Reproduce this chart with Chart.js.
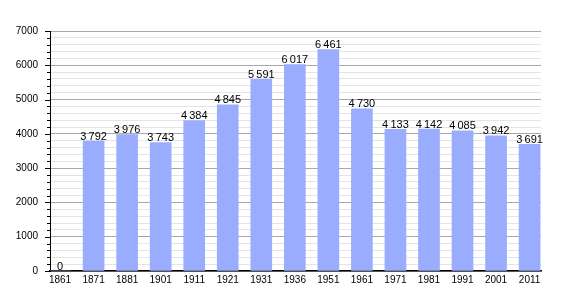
<!DOCTYPE html>
<html>
<head>
<meta charset="utf-8">
<script src="https://cdn.jsdelivr.net/npm/chart.js@4"></script>
<style>
  html, body { margin: 0; padding: 0; background: #fff; }
  #wrap { width: 570px; height: 300px; }
</style>
</head>
<body>
<div id="wrap"><canvas id="popChart"></canvas></div>
<script>
// années et population
const years = ['1861', '1871', '1881', '1901', '1911', '1921', '1931', '1936', '1951', '1961', '1971', '1981', '1991', '2001', '2011'];
const population = [0, 3792, 3976, 3743, 4384, 4845, 5591, 6017, 6461, 4730, 4133, 4142, 4085, 3942, 3691];
const yTicks = [0, 1000, 2000, 3000, 4000, 5000, 6000, 7000];

const points = population.map((v, i) => ({ x: i, y: v }));
const fontFamily = '"Liberation Sans", Arial, sans-serif';

function formatFr(n) {
    // séparateur de milliers : espace fine
    return String(n).replace(/\B(?=(\d{3})+(?!\d))/g, '\u2009');
}

// valeurs au-dessus des barres
const valueLabels = {
    id: 'valueLabels',
    afterDatasetsDraw(chart) {
        const ctx = chart.ctx;
        const meta = chart.getDatasetMeta(0);
        ctx.save();
        ctx.font = '11px ' + fontFamily;
        ctx.fillStyle = '#000';
        ctx.textAlign = 'center';
        ctx.textBaseline = 'bottom';
        meta.data.forEach((bar, i) => {
            ctx.fillText(formatFr(population[i]), bar.x, bar.y + 1);
        });
        ctx.restore();
    }
};

// petits traits de graduation à gauche de l'axe
const minorTicks = {
    id: 'minorTicks',
    afterDraw(chart) {
        const ctx = chart.ctx;
        const y = chart.scales.y;
        const left = chart.chartArea.left;
        ctx.save();
        ctx.strokeStyle = '#000';
        ctx.lineWidth = 1;
        for (let v = 0; v <= 7000; v += 200) {
            const py = Math.round(y.getPixelForValue(v)) + 0.5;
            const len = v % 1000 === 0 ? 5 : 3;
            ctx.beginPath();
            ctx.moveTo(left - len, py);
            ctx.lineTo(left, py);
            ctx.stroke();
        }
        ctx.restore();
    }
};

new Chart(document.getElementById('popChart'), {
    type: 'bar',
    data: {
        datasets: [{
            data: points,
            backgroundColor: '#9aacfd',
            borderWidth: 0,
            barThickness: 21
        }]
    },
    options: {
        responsive: true,
        maintainAspectRatio: false,
        animation: false,
        layout: { padding: { top: 31, right: 29, bottom: 11, left: 0 } },
        plugins: {
            legend: { display: false },
            tooltip: { enabled: false }
        },
        scales: {
            x: {
                type: 'linear',
                min: -0.3,
                max: 14.34,
                offset: false,
                afterBuildTicks(scale) {
                    scale.ticks = years.map((_, i) => ({ value: i }));
                },
                ticks: {
                    autoSkip: false,
                    maxRotation: 0,
                    padding: 3,
                    color: '#000',
                    font: { family: fontFamily, size: 10 },
                    callback: (v) => years[v]
                },
                grid: { display: false, drawTicks: false },
                border: { display: true, color: '#000', width: 1.5 }
            },
            y: {
                min: 0,
                max: 7000,
                afterBuildTicks(scale) {
                    const t = [];
                    for (let v = 0; v <= 7000; v += 200) t.push({ value: v });
                    scale.ticks = t;
                },
                afterFit(scale) { scale.width = 50; },
                ticks: {
                    autoSkip: false,
                    padding: 12,
                    color: '#000',
                    font: { family: fontFamily, size: 10 },
                    callback: (v) => (yTicks.includes(v) ? String(v) : '')
                },
                grid: {
                    drawTicks: false,
                    color: (c) => (c.tick && c.tick.value % 1000 === 0 ? '#a8a8a8' : '#e4e4e4'),
                    lineWidth: 1
                },
                border: { display: true, color: '#000', width: 1 }
            }
        }
    },
    plugins: [valueLabels, minorTicks]
});
</script>
</body>
</html>
